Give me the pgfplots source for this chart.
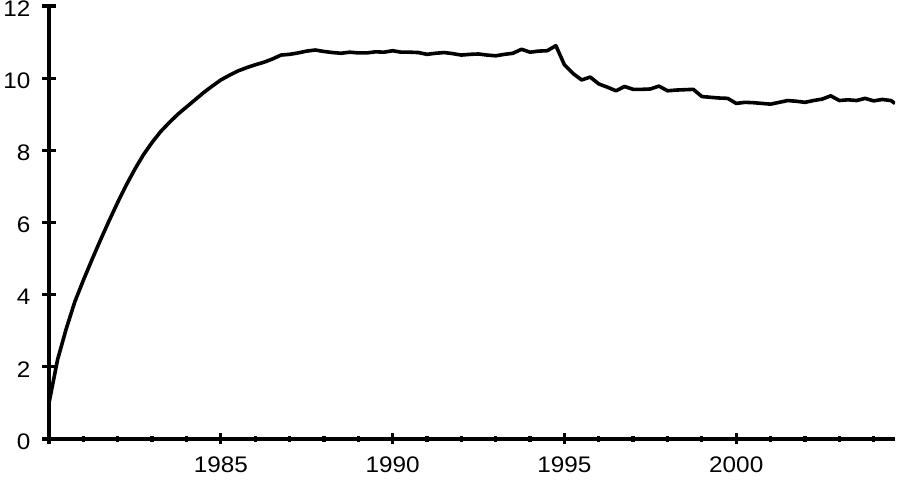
\documentclass[border=0pt]{standalone}
\usepackage{fontspec}
\setmainfont{Liberation Sans}[FakeStretch=1.08]
\usepackage{pgfplots}
\pgfplotsset{compat=1.18}
\pgfplotstableread{
t v
1980.00 1.00
1980.25 2.20
1980.50 3.05
1980.75 3.80
1981.00 4.40
1981.25 4.97
1981.50 5.52
1981.75 6.05
1982.00 6.56
1982.25 7.04
1982.50 7.48
1982.75 7.88
1983.00 8.22
1983.25 8.52
1983.50 8.77
1983.75 9.00
1984.00 9.20
1984.25 9.40
1984.50 9.60
1984.75 9.78
1985.00 9.95
1985.25 10.08
1985.50 10.20
1985.75 10.29
1986.00 10.37
1986.25 10.44
1986.50 10.53
1986.75 10.64
1987.00 10.66
1987.25 10.70
1987.50 10.75
1987.75 10.78
1988.00 10.74
1988.25 10.71
1988.50 10.69
1988.75 10.72
1989.00 10.70
1989.25 10.70
1989.50 10.73
1989.75 10.72
1990.00 10.76
1990.25 10.72
1990.50 10.72
1990.75 10.71
1991.00 10.66
1991.25 10.69
1991.50 10.71
1991.75 10.68
1992.00 10.64
1992.25 10.66
1992.50 10.67
1992.75 10.64
1993.00 10.62
1993.25 10.66
1993.50 10.69
1993.75 10.80
1994.00 10.72
1994.25 10.75
1994.50 10.76
1994.75 10.90
1995.00 10.37
1995.25 10.13
1995.50 9.95
1995.75 10.03
1996.00 9.84
1996.25 9.75
1996.50 9.65
1996.75 9.77
1997.00 9.69
1997.25 9.69
1997.50 9.70
1997.75 9.78
1998.00 9.65
1998.25 9.67
1998.50 9.68
1998.75 9.69
1999.00 9.49
1999.25 9.47
1999.50 9.45
1999.75 9.44
2000.00 9.30
2000.25 9.33
2000.50 9.32
2000.75 9.30
2001.00 9.28
2001.25 9.33
2001.50 9.38
2001.75 9.36
2002.00 9.33
2002.25 9.38
2002.50 9.42
2002.75 9.51
2003.00 9.38
2003.25 9.40
2003.50 9.38
2003.75 9.44
2004.00 9.37
2004.25 9.41
2004.50 9.38
2004.62 9.30
}\series
\pgfplotsset{
  common/.style={
    at={(49pt,42pt)}, anchor=south west,
    scale only axis, width=846pt, height=433pt,
    xmin=1980, xmax=2004.62, ymin=0, ymax=12,
    tick align=outside,
    every tick/.style={black, line width=3.3pt},
    tick label style={font=\fontsize{22.5}{22.5}\selectfont},
    /pgf/number format/assume math mode=true,
  },
  nolinearrows/.style={
    axis line style={-, black, line width=3.6pt},
    every outer x axis line/.append style={-},
    every outer y axis line/.append style={-},
    x axis line style={-},
    y axis line style={-},
  }
}
\begin{document}
\begin{tikzpicture}
\useasboundingbox (0,0) rectangle (899pt,481pt);
% y axis with its ticks
\begin{axis}[common,
  axis y line=left, axis x line=none,
  xtick=\empty,
  ytick={0,2,4,6,8,10,12},
  major tick length=14pt,
  yticklabel style={xshift=-8pt, yshift=-2.5pt},
  nolinearrows,
]
\end{axis}
% x axis and the series
\begin{axis}[common,
  axis x line=bottom, axis y line=left,
  ytick=\empty,
  xtick={1980,1985,1990,1995,2000},
  xticklabels={,1985,1990,1995,2000},
  minor xtick={1981,1982,...,2004},
  major tick length=11pt, minor tick length=5.5pt,
  xticklabel style={yshift=-8.5pt},
  nolinearrows,
]
\addplot[black, line width=3.6pt, line join=round, mark=none] table {\series};
\end{axis}
\end{tikzpicture}
\end{document}
